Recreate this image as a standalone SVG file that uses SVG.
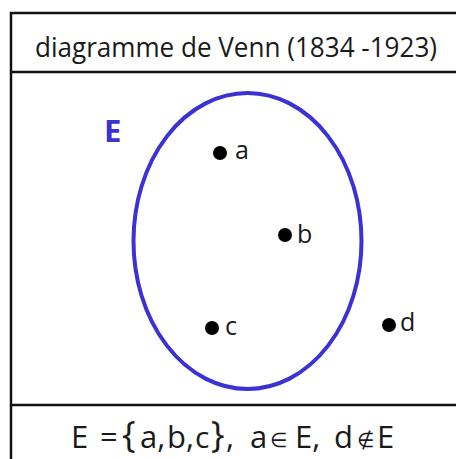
<svg xmlns="http://www.w3.org/2000/svg" width="456" height="459" viewBox="0 0 456 459">
<style>
.frame{stroke:#111;stroke-width:2.5;fill:none}
.t{font-family:"Open Sans","Noto Sans",sans-serif;fill:#1a1a1a}
.dot{fill:#000}
.lbl{font-family:"Open Sans","Noto Sans",sans-serif;font-size:25px;fill:#1a1a1a}
</style>
<rect x="0" y="0" width="456" height="459" fill="#fff"/>
<g id="frame">
<path class="frame" d="M11,459 V13 H456"/>
<line class="frame" x1="11" y1="72" x2="456" y2="72"/>
<line class="frame" x1="11" y1="405" x2="456" y2="405"/>
</g>
<g id="title">
<text class="t" x="35" y="57" font-size="27" textLength="402" lengthAdjust="spacingAndGlyphs">diagramme de Venn (1834 -1923)</text>
</g>
<g id="set-E">
<ellipse cx="247.5" cy="241" rx="114" ry="148" fill="none" stroke="#3a32d4" stroke-width="4"/>
<text x="104" y="142" font-family="'Open Sans','Noto Sans',sans-serif" font-weight="bold" font-size="31" fill="#3a32d4">E</text>
</g>
<g id="elem-a"><circle class="dot" cx="220" cy="153" r="7"/><text class="lbl" x="235" y="159">a</text></g>
<g id="elem-b"><circle class="dot" cx="285" cy="235" r="7"/><text class="lbl" x="297" y="243">b</text></g>
<g id="elem-c"><circle class="dot" cx="212" cy="328" r="7"/><text class="lbl" x="225" y="335">c</text></g>
<g id="elem-d"><circle class="dot" cx="389" cy="325" r="7"/><text class="lbl" x="400" y="331">d</text></g>
<g id="formula">
<text class="t" x="71" y="448" font-size="31">E</text>
<text class="t" x="100" y="448" font-size="31">=</text>
<text class="t" x="122" y="447" font-size="36">{</text>
<text class="t" x="140" y="448" font-size="31">a,</text>
<text class="t" x="167" y="448" font-size="31">b</text>
<text class="t" x="186" y="448" font-size="31">,</text>
<text class="t" x="195" y="448" font-size="30">c</text>
<text class="t" x="211" y="447" font-size="36">}</text>
<text class="t" x="226" y="448" font-size="31">,</text>
<text class="t" x="250" y="448" font-size="31">a</text>
<text class="t" x="270" y="447" font-size="20">∈</text>
<text class="t" x="295" y="448" font-size="31">E,</text>
<text class="t" x="334" y="448" font-size="31">d</text>
<text class="t" x="357" y="447" font-size="20">∉</text>
<text class="t" x="377" y="448" font-size="31">E</text>
</g>
</svg>
